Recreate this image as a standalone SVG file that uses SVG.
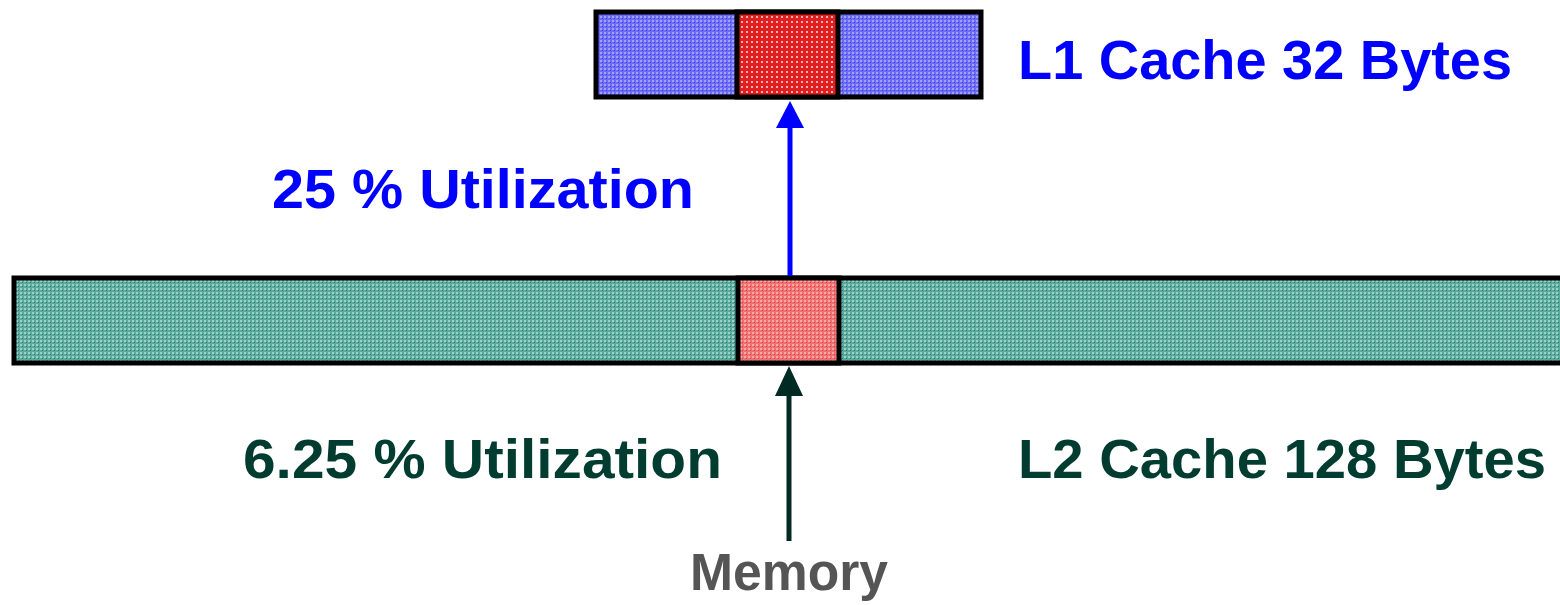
<svg xmlns="http://www.w3.org/2000/svg" width="1560" height="605" viewBox="0 0 1560 605">
<style>
.t{font-family:"Liberation Sans",Arial,sans-serif;font-weight:bold;font-size:56px}
.m{font-size:51px}
.blue{fill:#0000ff}
.green{fill:#003c30}
.gray{fill:#555555}
.box{stroke:#000;stroke-width:5}
</style>
<defs>
<pattern id="pBlue" width="4" height="4" patternUnits="userSpaceOnUse">
<rect width="4" height="4" fill="#6b6bf5"/>
<rect x="0" y="0" width="2" height="2" fill="#a0a0ff"/>
<rect x="2" y="2" width="1" height="1" fill="#3a3ae0"/>
</pattern>
<pattern id="pRed" width="5" height="5" patternUnits="userSpaceOnUse">
<rect width="5" height="5" fill="#e02020"/>
<rect x="1" y="1" width="2" height="2" fill="#f8b0b0"/>
</pattern>
<pattern id="pRed2" width="4" height="4" patternUnits="userSpaceOnUse">
<rect width="4" height="4" fill="#f07070"/>
<rect x="0" y="0" width="2" height="2" fill="#f8a8a8"/>
<rect x="2" y="2" width="1" height="1" fill="#d84040"/>
</pattern>
<pattern id="pTeal" width="4" height="4" patternUnits="userSpaceOnUse">
<rect width="4" height="4" fill="#5aaa9e"/>
<rect x="0" y="0" width="2" height="2" fill="#9ed0c8"/>
<rect x="2" y="2" width="1" height="1" fill="#2a7a6e"/>
</pattern>
</defs>

<g id="l1-cache">
<rect class="box" x="596" y="12" width="385" height="85" fill="url(#pBlue)"/>
<rect class="box" x="737" y="12" width="101" height="85" fill="url(#pRed)"/>
</g>

<g id="l2-cache">
<rect class="box" x="14" y="278" width="1560" height="85" fill="url(#pTeal)"/>
<rect class="box" x="738" y="278" width="101" height="85" fill="url(#pRed2)"/>
</g>

<g id="connectors">
<line x1="790" y1="276" x2="790" y2="125" stroke="#0000ff" stroke-width="5"/>
<polygon points="790,101 776,128 804,128" fill="#0000ff"/>
<line x1="789" y1="541" x2="789" y2="392" stroke="#002a24" stroke-width="5"/>
<polygon points="789,366 775,396 803,396" fill="#002a24"/>
</g>

<g id="labels">
<text class="t blue" x="1018" y="79" textLength="494" lengthAdjust="spacingAndGlyphs">L1 Cache 32 Bytes</text>
<text class="t blue" x="272" y="208" textLength="422" lengthAdjust="spacingAndGlyphs">25 % Utilization</text>
<text class="t green" x="243" y="478" textLength="479" lengthAdjust="spacingAndGlyphs">6.25 % Utilization</text>
<text class="t green" x="1018" y="478" textLength="528" lengthAdjust="spacingAndGlyphs">L2 Cache 128 Bytes</text>
<text class="t m gray" x="690" y="590" textLength="198" lengthAdjust="spacingAndGlyphs">Memory</text>
</g>
</svg>
